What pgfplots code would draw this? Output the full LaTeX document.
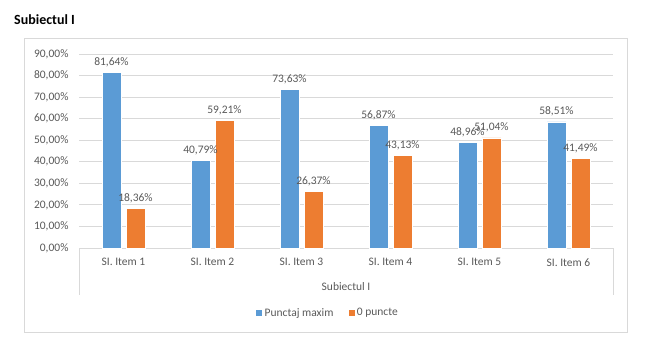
\documentclass[border=0pt]{standalone}
\usepackage{pgfplots}
\pgfplotsset{compat=1.18}
\usepackage{fontspec}
\setmainfont{Carlito}
\definecolor{cblue}{HTML}{5B9BD5}
\definecolor{corange}{HTML}{ED7D31}
\definecolor{txtgray}{HTML}{595959}
\definecolor{gridgray}{HTML}{D9D9D9}
\definecolor{framegray}{HTML}{D9D9D9}
\pgfkeys{/pgf/number format/assume math mode=true}
\begin{document}
\begin{tikzpicture}
\path[use as bounding box] (0,0) rectangle (649bp,-352bp);
\draw[framegray, line width=0.9bp] (24bp,-38bp) rectangle (627bp,-332bp);
\node[anchor=west, inner sep=0pt, font=\fontsize{14bp}{16bp}\selectfont\bfseries] at (14bp,-20bp) {Subiectul I};
\begin{axis}[
  at={(79bp,-248bp)}, anchor=south west,
  scale only axis, width=534bp, height=194bp,
  ymin=0, ymax=90, xmin=-0.5, xmax=5.5,
  ytick={0,10,...,90},
  xtick={0,...,5},
  xticklabels={SI. Item 1,SI. Item 2,SI. Item 3,SI. Item 4,SI. Item 5,SI. Item 6},
  ymajorgrids, grid style={gridgray, line width=0.8bp},
  axis x line*=bottom, axis y line*=left,
  x axis line style={gridgray, line width=0.8bp, -},
  y axis line style={draw=none},
  major tick length=0pt,
  tick style={draw=none},
  font=\fontsize{11.5bp}{13bp}\selectfont,
  tick label style={txtgray},
  yticklabel={\pgfmathprintnumber[fixed,fixed zerofill,precision=2,use comma]{\tick}\%},
  yticklabel style={xshift=-7bp},
  xticklabel style={yshift=-7bp},
  ybar=5bp, bar width=19bp,
  nodes near coords={\pgfmathprintnumber[fixed,fixed zerofill,precision=2,use comma]{\pgfplotspointmeta}\%},
  every node near coord/.append style={txtgray, yshift=2bp, font=\fontsize{11.5bp}{13bp}\selectfont},
  legend style={at={(0.4654,-0.335)}, anchor=center, draw=none, fill=none, legend columns=2,
    font=\fontsize{11.5bp}{13bp}\selectfont, text=txtgray,
    /tikz/every even column/.append style={column sep=12bp}},
  legend image code/.code={\fill[#1] (0bp,-3.5bp) rectangle (7bp,3.5bp);},
  clip=false,
]
\addplot[fill=cblue, draw=white, line width=0.4bp] coordinates {(0,81.64) (1,40.79) (2,73.63) (3,56.87) (4,48.96) (5,58.51)};
\addplot[fill=corange, draw=white, line width=0.4bp] coordinates {(0,18.36) (1,59.21) (2,26.37) (3,43.13) (4,51.04) (5,41.49)};
\legend{Punctaj maxim, 0 puncte}
\draw[gridgray, line width=0.8bp] (rel axis cs:0,0) -- ([yshift=-47bp]rel axis cs:0,0);
\draw[gridgray, line width=0.8bp] (rel axis cs:1,0) -- ([yshift=-47bp]rel axis cs:1,0);
\node[txtgray, font=\fontsize{11.5bp}{13bp}\selectfont] at (rel axis cs:0.5,0) [yshift=-39bp] {Subiectul I};
\end{axis}
\end{tikzpicture}
\end{document}
